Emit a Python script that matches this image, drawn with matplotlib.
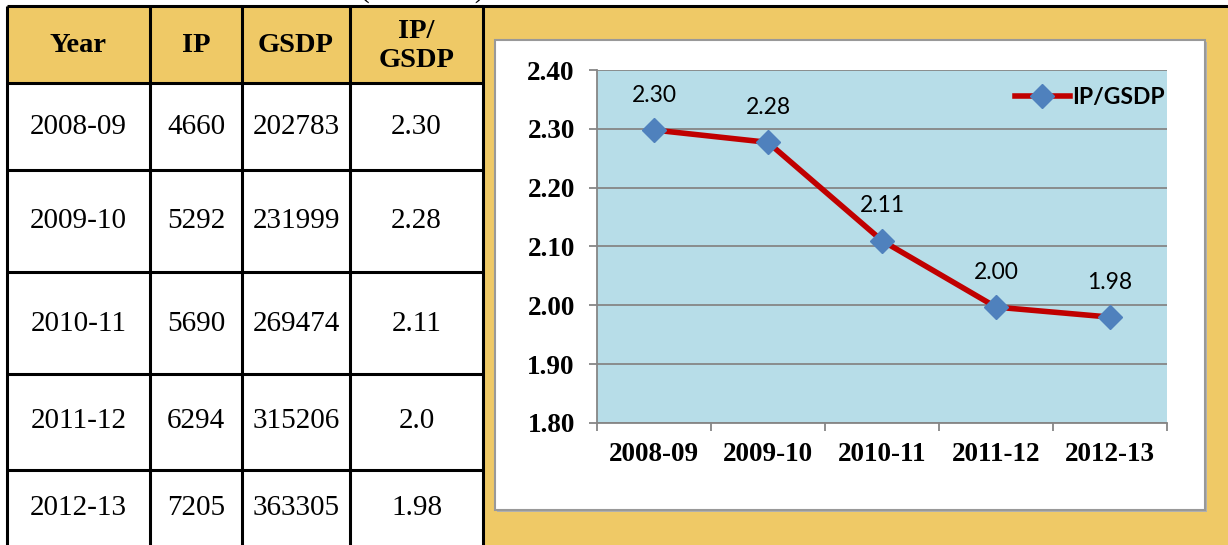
import matplotlib
matplotlib.use("Agg")
import matplotlib.pyplot as plt
from matplotlib.patches import Rectangle
from matplotlib.ticker import FixedLocator, NullFormatter

# ---- data ----
years = ["2008-09", "2009-10", "2010-11", "2011-12", "2012-13"]
ip = [4660, 5292, 5690, 6294, 7205]
gsdp = [202783, 231999, 269474, 315206, 363305]
ratio_table = ["2.30", "2.28", "2.11", "2.0", "1.98"]
ratio = [2.298, 2.277, 2.110, 1.997, 1.980]
headers = ["Year", "IP", "GSDP", "IP/\nGSDP"]
yticks = [1.80, 1.90, 2.00, 2.10, 2.20, 2.30, 2.40]
series_name = "IP/GSDP"

GOLD = "#EFC966"
SERIF = "Liberation Serif"
SANS = "Lato"

W, H = 1228, 545
fig = plt.figure(figsize=(W / 100, H / 100), dpi=100)

# background canvas in pixel coordinates
bg = fig.add_axes([0, 0, 1, 1])
bg.set_xlim(0, W)
bg.set_ylim(H, 0)
bg.axis("off")

# right gold panel
bg.add_patch(Rectangle((483, 6), W - 483, H - 6, facecolor=GOLD, edgecolor="none"))
# white chart box
bg.add_patch(Rectangle((497, 42), 710, 470, facecolor="#b0b0b0", edgecolor="none"))
bg.add_patch(Rectangle((495, 40), 710, 470, facecolor="white", edgecolor="#999999", lw=1.5))

# table header fill
bg.add_patch(Rectangle((7, 6), 476, 77, facecolor=GOLD, edgecolor="none"))

col_x = [7, 150, 242, 350, 483]
row_y = [6, 83, 170, 272, 374, 470, 548]
for x in col_x:
    bg.plot([x, x], [6, H], color="black", lw=2.2, solid_capstyle="butt")
for y in row_y[:-1]:
    bg.plot([7, 483], [y, y], color="black", lw=2.2, solid_capstyle="butt")
bg.plot([483, W], [6, 6], color="black", lw=2.2)

# partially cut title fragment at top
bg.text(422, -3, "(Rs. crore)", ha="center", va="baseline", fontsize=21,
        family=SERIF, clip_on=False)

centers = [(col_x[i] + col_x[i + 1]) / 2 for i in range(4)]
for c, h in zip(centers, headers):
    bg.text(c, 46, h, ha="center", va="center", fontsize=20.5, family=SERIF,
            fontweight="bold", linespacing=1.25)

row_centers = [127, 221, 324, 421, 508]
for r, yr, a, b, rt in zip(row_centers, years, ip, gsdp, ratio_table):
    for c, s in zip(centers, [yr, str(a), str(b), rt]):
        bg.text(c, r, s, ha="center", va="center", fontsize=21, family=SERIF)

# ---- chart ----
x0, x1, ytop, ybot = 597, 1167, 70, 423
ax = fig.add_axes([x0 / W, (H - ybot) / H, (x1 - x0) / W, (ybot - ytop) / H])
ax.set_facecolor("#B7DDE8")
ax.set_ylim(1.80, 2.40)
ax.set_xlim(-0.5, len(years) - 0.5)
xs = list(range(len(years)))

ax.set_yticks(yticks)
ax.set_yticklabels([f"{v:.2f}" for v in yticks], family=SERIF, fontweight="bold", fontsize=19.5)
ax.yaxis.grid(True, color="#868686", lw=1.3)
ax.set_axisbelow(True)

ax.xaxis.set_major_locator(FixedLocator([i - 0.5 for i in range(len(years) + 1)]))
ax.xaxis.set_major_formatter(NullFormatter())
ax.xaxis.set_minor_locator(FixedLocator(xs))
ax.set_xticks(xs, minor=True)
ax.set_xticklabels(years, minor=True, family=SERIF, fontweight="bold", fontsize=19.5)
ax.tick_params(axis="x", which="minor", length=0, pad=14)
ax.tick_params(axis="x", which="major", length=6, width=1.3, color="#868686", direction="out")
ax.tick_params(axis="y", length=6, width=1.3, color="#868686", pad=10)

for s in ["top", "right"]:
    ax.spines[s].set_visible(False)
for s in ["left", "bottom"]:
    ax.spines[s].set_color("#868686")
    ax.spines[s].set_linewidth(1.3)

ax.plot(xs, ratio, color="#C00000", lw=4, marker="D", ms=12,
        mfc="#4F81BD", mec="#4F81BD", label=series_name, zorder=3)
for x, v in zip(xs, ratio):
    ax.annotate(f"{v:.2f}", (x, v), xytext=(0, 25), textcoords="offset points",
                ha="center", va="center", fontsize=16.5, family=SANS)

leg = ax.legend(loc="upper right", bbox_to_anchor=(1.02, 0.99), frameon=False,
                prop={"family": SANS, "weight": "bold", "size": 16.5},
                handlelength=2.4, handletextpad=0.1, borderaxespad=0.2)

fig.savefig("out.png", dpi=100)
